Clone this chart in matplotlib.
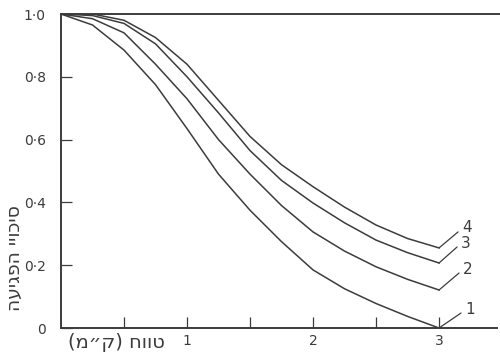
import numpy as np
from matplotlib import pyplot as plt

plt.rcParams['font.family'] = ['DejaVu Sans']

# range (km) and hit probability
range_km = [0.0, 0.25, 0.5, 0.75, 1.0, 1.25, 1.5, 1.75, 2.0, 2.25, 2.5, 2.75, 3.0]
curve_1 = [1.0, 0.965, 0.885, 0.775, 0.635, 0.49, 0.375, 0.275, 0.185, 0.125, 0.078, 0.037, 0.0]
curve_2 = [1.0, 0.985, 0.94, 0.84, 0.73, 0.60, 0.49, 0.39, 0.306, 0.245, 0.195, 0.155, 0.121]
curve_3 = [1.0, 0.995, 0.97, 0.905, 0.80, 0.685, 0.565, 0.47, 0.398, 0.335, 0.28, 0.24, 0.207]
curve_4 = [1.0, 1.0, 0.98, 0.925, 0.84, 0.725, 0.61, 0.52, 0.45, 0.385, 0.328, 0.285, 0.255]
curve_names = ['1', '2', '3', '4']

xticks_major = [1, 2, 3]
xticks_minor = [0.5, 1.5, 2.5]
yticks = [0, 0.2, 0.4, 0.6, 0.8, 1.0]
ytick_labels = ['0', '0·2', '0·4', '0·6', '0·8', '1·0']

ylabel = 'סיכויי הפגיעה'
xlabel = 'טווח (ק״מ)'


def visual(s):
    # matplotlib has no bidi support: lay hebrew out right-to-left by hand
    mirror = {'(': ')', ')': '('}
    return ''.join(mirror.get(c, c) for c in s[::-1])


ink = '#3c3c3c'
fig = plt.figure(figsize=(5, 3.58), dpi=100)
ax = fig.add_axes([61 / 500, 1 - 328 / 358, 436 / 500, 314 / 358])

curves = [curve_1, curve_2, curve_3, curve_4]
# pixel offsets of each leader line end
offsets = [(22, 15), (20, 17), (18, 16), (19, 16)]
for ys, name, off in zip(curves, curve_names, offsets):
    ax.plot(range_km, ys, color=ink, lw=1.1)
    ax.annotate('', xy=(range_km[-1], ys[-1]), xytext=off,
                textcoords='offset pixels',
                arrowprops=dict(arrowstyle='-', color=ink, lw=0.9,
                                shrinkA=0, shrinkB=0))
    ax.annotate(name, xy=(range_km[-1], ys[-1]),
                xytext=(off[0] + 9, off[1] + 4), textcoords='offset pixels',
                ha='center', va='center', fontsize=11, color=ink)

ax.set_xlim(0, 3.46)
ax.set_ylim(0, 1.0)

ax.spines['right'].set_visible(False)
for s in ['left', 'bottom', 'top']:
    ax.spines[s].set_color(ink)
    ax.spines[s].set_linewidth(1.4)
ax.spines['top'].set_bounds(0, 3.5)

ax.set_xticks(xticks_major)
ax.set_xticks(xticks_minor, minor=True)
ax.set_yticks(yticks)
ax.set_yticklabels(ytick_labels)
ax.tick_params(axis='both', which='both', direction='in', length=8,
               width=0.9, color=ink, labelcolor=ink, labelsize=10)
ax.tick_params(axis='y', pad=11)
ax.tick_params(axis='x', pad=4)

fig.text(0.028, 0.28, visual(ylabel), rotation=90, ha='center',
         va='center', fontsize=13.5, color=ink)
fig.text(0.232, 0.044, visual(xlabel), ha='center', va='center',
         fontsize=14, color=ink)

fig.savefig('out.png', dpi=100)
